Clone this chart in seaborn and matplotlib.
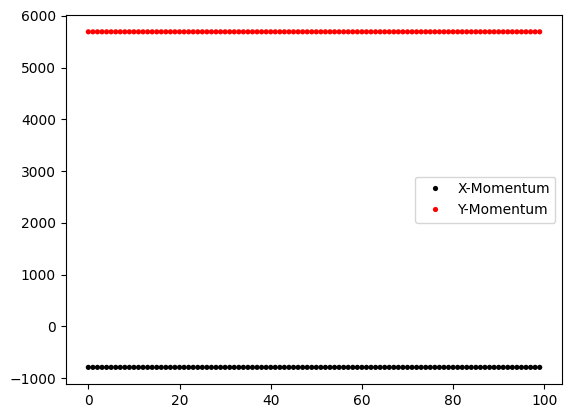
import numpy as np
import pandas as pd
import seaborn as sns
import matplotlib
matplotlib.use('Agg')
import matplotlib.pyplot as plt

# Data: momentum stays constant over the 100 steps
steps = list(range(100))
x_momentum = [-790.0] * 100
y_momentum = [5690.0] * 100

df = pd.DataFrame({
    'step': steps + steps,
    'momentum': x_momentum + y_momentum,
    'kind': ['X-Momentum'] * 100 + ['Y-Momentum'] * 100,
})

sns.set_style('ticks', {'axes.edgecolor': 'black', 'xtick.color': 'black',
                        'ytick.color': 'black', 'text.color': 'black'})
plt.rcParams['font.family'] = ['DejaVu Sans']

fig, ax = plt.subplots(figsize=(5.72, 4.18), dpi=100)
sns.scatterplot(data=df, x='step', y='momentum', hue='kind',
                palette={'X-Momentum': 'black', 'Y-Momentum': 'red'},
                s=14, linewidth=0, ax=ax)

ax.set_xlabel('')
ax.set_ylabel('')
ax.set_xticks([0, 20, 40, 60, 80, 100])
ax.legend(loc='center right', title=None, fontsize=10,
          markerscale=1.0, handletextpad=0.6)

fig.subplots_adjust(left=0.115, right=0.983, top=0.964, bottom=0.081)
fig.savefig('out.png', dpi=100)
